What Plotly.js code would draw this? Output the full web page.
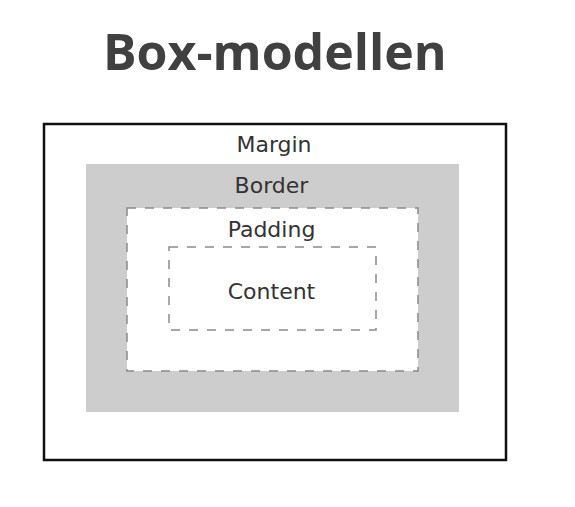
<!DOCTYPE html>
<html>
<head>
<meta charset="utf-8">
<script src="https://cdn.plot.ly/plotly-3.0.1.min.js"></script>
<style>html,body{margin:0;padding:0;background:#fff}#plot{width:575px;height:507px}</style>
</head>
<body>
<div id="plot"></div>
<script>
// box model layers, outer to inner (pixel coordinates of the picture)
const boxNames = ["Margin", "Border", "Padding", "Content"];
const boxX0 = [44, 86, 127, 169];
const boxX1 = [506, 459, 418, 376];
const boxY0 = [124, 164, 208, 247];
const boxY1 = [460, 412, 371, 330];
const labelY = [146, 187, 231, 293];

const styles = [
  { line: { color: "#111111", width: 2.5 }, fillcolor: "rgba(0,0,0,0)" },
  { line: { width: 0 }, fillcolor: "#cdcdcd" },
  { line: { color: "#8a8a8a", width: 1.5, dash: "dash" }, fillcolor: "#ffffff" },
  { line: { color: "#8a8a8a", width: 1.5, dash: "dash" }, fillcolor: "#ffffff" },
];

const shapes = boxNames.map((n, i) => ({
  type: "rect", xref: "x", yref: "y", layer: "below",
  x0: boxX0[i], x1: boxX1[i], y0: boxY0[i], y1: boxY1[i],
  line: styles[i].line, fillcolor: styles[i].fillcolor,
}));

const trace = {
  type: "scatter",
  mode: "text",
  x: boxNames.map((n, i) => (boxX0[i] + boxX1[i]) / 2 - 1),
  y: labelY,
  text: boxNames,
  textfont: { family: "DejaVu Sans", size: 22, color: "#333333" },
  hoverinfo: "skip",
};

const axis = { visible: false, fixedrange: true };
Plotly.newPlot("plot", [trace], {
  width: 575, height: 507,
  margin: { l: 0, r: 0, t: 0, b: 0 },
  paper_bgcolor: "#ffffff", plot_bgcolor: "#ffffff",
  showlegend: false,
  xaxis: Object.assign({ range: [0, 575] }, axis),
  yaxis: Object.assign({ range: [507, 0] }, axis),
  shapes: shapes,
  annotations: [{
    text: "<b>Box-modellen</b>", xref: "x", yref: "y", x: 275, y: 51,
    showarrow: false, font: { family: "Open Sans", size: 50, color: "#404040" },
  }],
}, { staticPlot: true });
</script>
</body>
</html>
